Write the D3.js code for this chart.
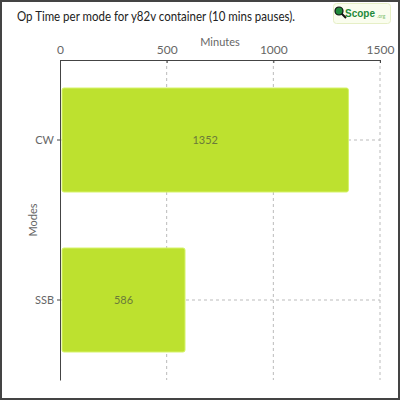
<!DOCTYPE html>
<html><head><meta charset="utf-8">
<script src="https://cdn.jsdelivr.net/npm/d3@7"></script>
<style>
html,body{margin:0;padding:0;background:#fff;}
svg{display:block;font-family:Lato,"Open Sans",sans-serif;}
</style></head>
<body>
<svg id="c" width="400" height="400"></svg>
<script>
const categories = ["CW", "SSB"];
const values = [1352, 586];
const xTicks = [0, 500, 1000, 1500];
const title = "Op Time per mode for y82v container (10 mins pauses).";
const xLabel = "Minutes";
const yLabel = "Modes";

const svg = d3.select("#c");
const L = 60, R = 380, T = 60, B = 380;

svg.append("rect").attr("x",1).attr("y",1).attr("width",398).attr("height",398)
  .attr("fill","#fff").attr("stroke","#444").attr("stroke-width",2);

const x = d3.scaleLinear().domain([0,1500]).range([L,R]);
const y = d3.scaleBand().domain(categories).range([T,B]).paddingInner(0.35).paddingOuter(0.175);

// gridlines
const grid = svg.append("g");
grid.selectAll("line.v").data(xTicks.slice(1)).join("line")
  .attr("x1",d=>x(d)).attr("x2",d=>x(d)).attr("y1",T).attr("y2",B)
  .attr("stroke","#bbb").attr("stroke-dasharray","3,3");
grid.selectAll("line.h").data(categories).join("line")
  .attr("x1",L).attr("x2",R).attr("y1",d=>y(d)+y.bandwidth()/2).attr("y2",d=>y(d)+y.bandwidth()/2)
  .attr("stroke","#bbb").attr("stroke-dasharray","3,3");

// bars
svg.append("g").selectAll("rect").data(categories).join("rect")
  .attr("x",x(0)+2).attr("y",d=>y(d))
  .attr("width",(d,i)=>x(values[i])-x(0)-2).attr("height",y.bandwidth())
  .attr("rx",2).attr("fill","#bde12f").attr("stroke","#d6f36a").attr("stroke-width",1);

svg.append("g").selectAll("text").data(categories).join("text")
  .attr("x",(d,i)=>(x(0)+2+x(values[i]))/2).attr("y",d=>y(d)+y.bandwidth()/2)
  .attr("dy","0.35em").attr("text-anchor","middle")
  .attr("font-size",11).attr("fill","#6b7a3a").text((d,i)=>values[i]);

// axes
const xa = svg.append("g").attr("transform",`translate(0,${T})`)
  .call(d3.axisTop(x).tickValues(xTicks).tickFormat(d3.format("d")).tickSize(3).tickSizeOuter(0));
xa.select(".domain").attr("stroke","#444");
xa.selectAll(".tick line").attr("stroke","#444").attr("y2",3);
xa.selectAll(".tick text").attr("font-size",12).attr("fill","#666").attr("font-family","Lato").attr("y",-6);

const ya = svg.append("g").attr("transform",`translate(${L},0)`)
  .call(d3.axisLeft(y).tickSize(3).tickSizeOuter(0));
ya.select(".domain").attr("stroke","#444");
ya.selectAll(".tick line").attr("stroke","#444");
ya.selectAll(".tick text").attr("font-size",11).attr("fill","#666").attr("font-family","Lato");

svg.append("text").attr("x",(L+R)/2).attr("y",46).attr("text-anchor","middle")
  .attr("font-size",11).attr("fill","#666").text(xLabel);
svg.append("text").attr("transform",`translate(37,${(T+B)/2}) rotate(-90)`).attr("text-anchor","middle")
  .attr("font-size",11).attr("fill","#666").text(yLabel);

svg.append("text").attr("x",17).attr("y",21).attr("font-size",12.5).attr("fill","#222")
  .attr("textLength",278).attr("lengthAdjust","spacingAndGlyphs")
  .text(title);

// logo
const lg = svg.append("g");
lg.append("rect").attr("x",333.5).attr("y",3.5).attr("width",57).attr("height",20).attr("rx",3)
  .attr("fill","#fafdee").attr("stroke","#e6efc6");
lg.append("line").attr("x1",341).attr("y1",13).attr("x2",346).attr("y2",18).attr("stroke","#111").attr("stroke-width",2);
lg.append("circle").attr("cx",339).attr("cy",11).attr("r",4).attr("fill","#1f8a3a").attr("stroke","#111").attr("stroke-width",1.2);
lg.append("text").attr("x",345).attr("y",17).attr("font-size",11).attr("font-weight","bold")
  .attr("fill","#1f8a3a").attr("font-family","Liberation Sans Narrow, Liberation Sans")
  .attr("textLength",30).attr("lengthAdjust","spacingAndGlyphs").text("Scope");
lg.append("text").attr("x",377).attr("y",18).attr("font-size",5).attr("fill","#7bbf6a").text(".org");
</script>
</body></html>
